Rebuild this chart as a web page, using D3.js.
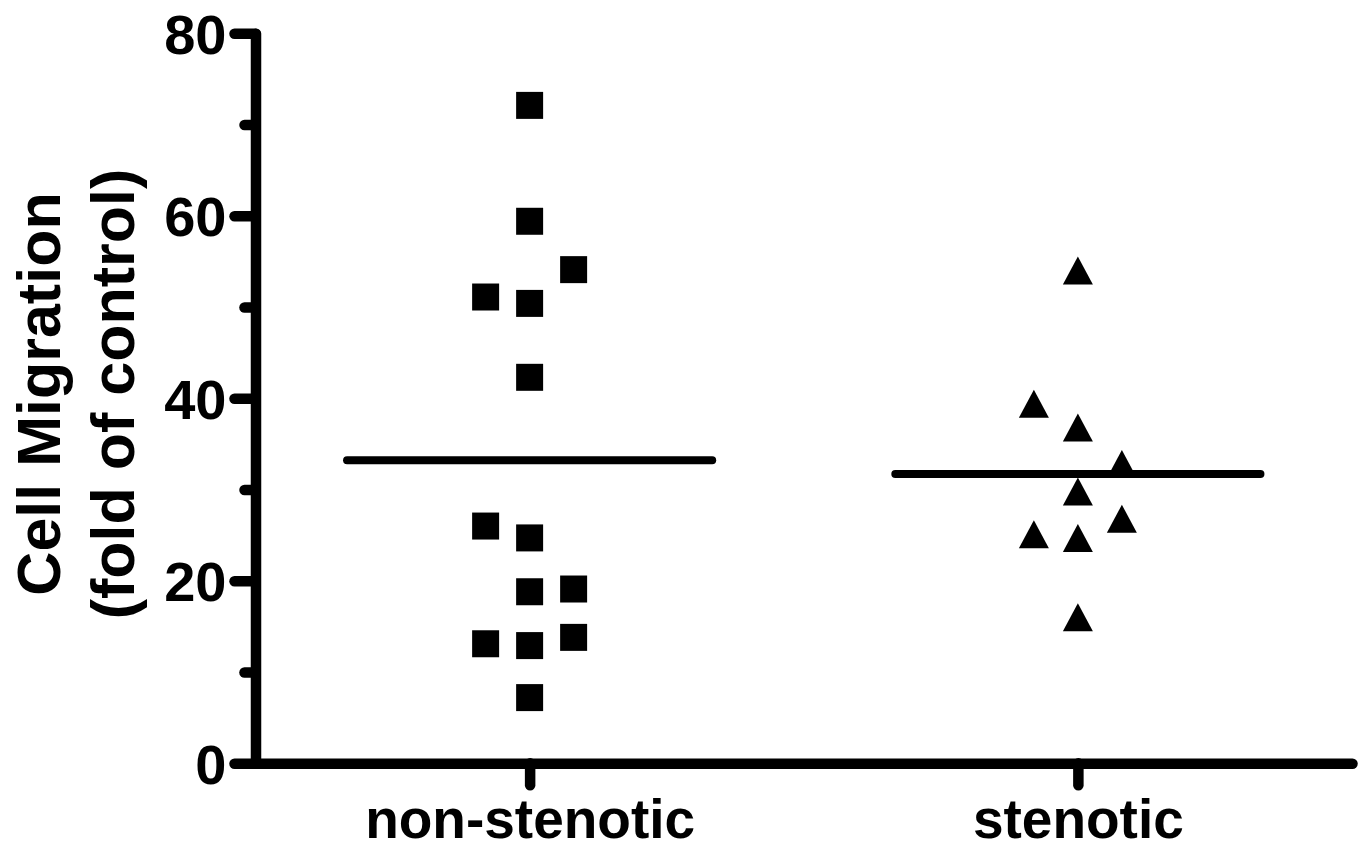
<!DOCTYPE html>
<html>
<head>
<meta charset="utf-8">
<script src="https://cdn.jsdelivr.net/npm/d3@7"></script>
<style>
  body { margin: 0; background: #fff; }
  svg { display: block; font-family: "Liberation Sans", Arial, sans-serif; font-weight: bold; }
</style>
</head>
<body>
<div id="chart"></div>
<script>
// values
const categories = ["non-stenotic", "stenotic"];
const nonStenoticValues = [72.1, 59.4, 54.1, 51.1, 50.4, 42.3, 26.0, 24.7, 18.8, 19.1, 13.1, 12.9, 13.8, 7.2];
const nonStenoticSlots  = [0, 0, 1, -1, 0, 0, -1, 0, 0, 1, -1, 0, 1, 0];
const stenoticValues = [54.0, 39.4, 36.8, 32.8, 29.8, 26.8, 25.1, 24.7, 16.0];
const stenoticSlots  = [0, -1, 0, 1, 0, 1, -1, 0, 0];
const yTicks = [0, 20, 40, 60, 80];
const yMinorTicks = [10, 30, 50, 70];

let width = 1368;
let height = 850;

const svg = d3.select("#chart").append("svg")
    .attr("width", width)
    .attr("height", height);

const y = d3.scaleLinear().domain([0, 80]).range([763.3, 33.3]);
const x = d3.scalePoint().domain(categories).range([255.5, 1352]).padding(0.5);
const slot = d3.scaleLinear().domain([-1, 1]).range([-44, 44]);
const halfLine = x.step() * 0.333;

// triangle centred on its bounding box, like the reference
const boxTriangle = {
  draw(context, size) {
    const w = Math.sqrt(size), h = w * 28 / 30;
    context.moveTo(0, -h / 2);
    context.lineTo(w / 2, h / 2);
    context.lineTo(-w / 2, h / 2);
    context.closePath();
  }
};

const groups = [
  { name: categories[0], values: nonStenoticValues, slots: nonStenoticSlots, type: d3.symbolSquare, size: 27 * 27 },
  { name: categories[1], values: stenoticValues, slots: stenoticSlots, type: boxTriangle, size: 30 * 30 }
];

// axes
const yAxis = svg.append("g")
    .attr("transform", "translate(255.5,0)")
    .call(d3.axisLeft(y).tickValues(yTicks).tickSize(21).tickSizeOuter(0).tickPadding(8));
const yMinor = svg.append("g")
    .attr("transform", "translate(255.5,0)")
    .call(d3.axisLeft(y).tickValues(yMinorTicks).tickSize(11).tickFormat(""));
yMinor.select(".domain").remove();

const xAxis = svg.append("g")
    .attr("transform", "translate(0,763.3)")
    .call(d3.axisBottom(x).tickSize(22).tickSizeOuter(0));

[yAxis, yMinor, xAxis].forEach(g => {
  g.selectAll("path, line")
    .attr("stroke", "#000")
    .attr("stroke-width", 10.5)
    .attr("stroke-linecap", "round");
});

yAxis.selectAll("text")
    .attr("fill", "#000")
    .attr("dy", "0.36em")
    .style("font-size", "56px")
    .style("font-weight", "bold");

xAxis.selectAll("text")
    .attr("fill", "#000")
    .attr("y", 75)
    .attr("dy", null)
    .style("font-size", "55px")
    .style("font-weight", "bold");

// y axis title
const title = svg.append("text")
    .attr("transform", "translate(0,394) rotate(-90)")
    .attr("text-anchor", "middle")
    .style("font-size", "61px")
    .attr("fill", "#000");
title.append("tspan").attr("x", 0).attr("y", 60).text("Cell Migration");
title.append("tspan").attr("x", 0).attr("y", 134).text("(fold of control)");

// mean lines
svg.append("g").selectAll("line")
  .data(groups)
  .join("line")
    .attr("x1", d => x(d.name) - halfLine)
    .attr("x2", d => x(d.name) + halfLine)
    .attr("y1", d => y(d3.mean(d.values)))
    .attr("y2", d => y(d3.mean(d.values)))
    .attr("stroke", "#000")
    .attr("stroke-width", 8)
    .attr("stroke-linecap", "round");

// points
groups.forEach(g => {
  svg.append("g").selectAll("path")
    .data(g.values.map((v, i) => ({ v, s: g.slots[i] })))
    .join("path")
      .attr("transform", d => `translate(${x(g.name) + slot(d.s)},${y(d.v)})`)
      .attr("d", d3.symbol().type(g.type).size(g.size))
      .attr("fill", "#000");
});
</script>
</body>
</html>
